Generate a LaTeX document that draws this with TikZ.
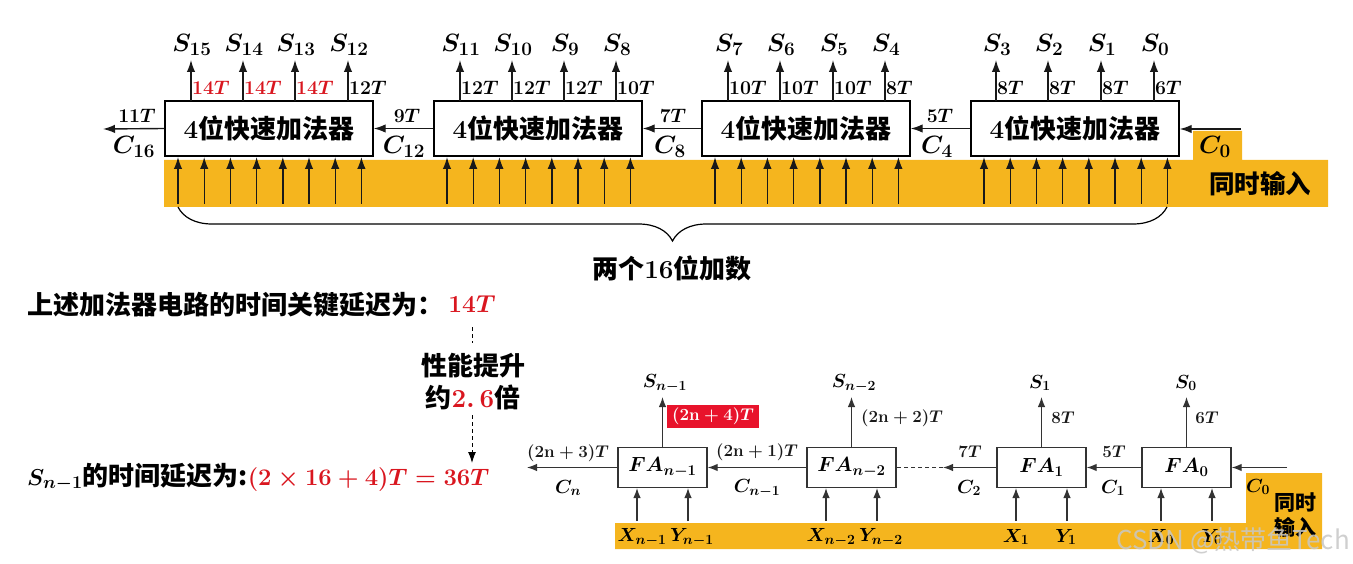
\documentclass[tikz,border=0pt]{standalone}
\usepackage{fix-cm}
\usepackage{amsmath,amssymb}
\usepackage{fontspec}
\usepackage{tikz}
\usetikzlibrary{arrows.meta,decorations.pathreplacing}
\newfontfamily\cjk{Noto Sans CJK SC}
\definecolor{bandyellow}{HTML}{F5B51E}
\definecolor{critred}{HTML}{D9161F}
\definecolor{tagred}{HTML}{E8132B}
\DeclareMathSizes{25}{25}{19}{14}
\DeclareMathSizes{23}{23}{18}{13}
\DeclareMathSizes{20.5}{20.5}{15}{12}
\DeclareMathSizes{19}{19}{14}{11}
\newcommand{\fsz}[1]{\cjk\bfseries\boldmath\fontsize{#1}{#1}\selectfont}
\tikzset{
  sig/.style={line width=1.4pt,draw=black!90,-{Latex[length=12pt,width=8.5pt]}},
  smallsig/.style={line width=1.3pt,draw=black!80,-{Latex[length=10pt,width=7.5pt]}},
  addbox/.style={draw=black,line width=1.4pt,fill=white,minimum width=208pt,minimum height=55pt,inner sep=0pt,font=\fsz{26}},
  fabox/.style={draw=black!80,line width=1.3pt,fill=white,minimum width=89pt,minimum height=40pt,inner sep=0pt,font=\fsz{20.5}},
  symlab/.style={inner sep=0pt,font=\fsz{25}},
  dly/.style={inner sep=0pt,font=\fsz{19.5}},
  lowlab/.style={inner sep=0pt,font=\fsz{19}},
  lowdly/.style={inner sep=0pt,text=black!90,font=\fsz{17}},
  headtxt/.style={inner sep=0pt,font=\fsz{26}},
  bandtxt/.style={inner sep=0pt,font=\fsz{25.5}},
  hintline/.style={line width=1pt,dash pattern=on 4pt off 3pt},
}
\begin{document}
\begin{tikzpicture}[x=1pt,y=-1pt]
  \useasboundingbox (0,0) rectangle (1353,564);
  \fill[bandyellow] (164,160) -- (1193,160) -- (1193,131) -- (1242,131) -- (1242,160) -- (1328,160) -- (1328,207) -- (164,207) -- cycle;
  \fill[bandyellow] (615,523) -- (1246,523) -- (1246,473) -- (1322,473) -- (1322,549) -- (615,549) -- cycle;

  \foreach \nm/\x in {add3/269,add2/538,add1/806,add0/1075}
    \node[addbox] (\nm) at (\x,128.5) {$4$位快速加法器};
  \coordinate (c16end) at (103,129);
  \coordinate (c0start) at (1241,129);
  \draw[sig] (c0start) -- (add0.east |- c0start);
  \draw[sig] (add0.west) -- (add1.east);
  \draw[sig] (add1.west) -- (add2.east);
  \draw[sig] (add2.west) -- (add3.east);
  \draw[sig] (add3.west) -- (c16end);

  \foreach \x/\sn/\dl/\cl in {191/15/14/critred,243/14/14/critred,295/13/14/critred,348/12/12/black,
      460/11/12/black,512/10/12/black,564/9/12/black,616/8/10/black,
      728/7/10/black,780/6/10/black,833/5/10/black,885/4/8/black,
      996/3/8/black,1048/2/8/black,1101/1/8/black,1154/0/6/black} {
    \coordinate (out\sn) at (\x,101);
    \coordinate (tip\sn) at (\x,60);
    \draw[sig] (out\sn) -- (tip\sn);
    \node[symlab] (s\sn) at (\x+1,45) {$S_{\sn}$};
    \node[dly,text=\cl,anchor=west] (d\sn) at (\x+1,88) {$\dl T$};
  }

  \foreach \l in {165,434,702,971}
    \foreach \i in {0,...,7} {
      \pgfmathsetmacro\xx{\l+13+26.2*\i}
      \coordinate (ia\l\i) at (\xx,204);
      \coordinate (ib\l\i) at (\xx,157);
      \draw[sig] (ia\l\i) -- (ib\l\i);
    }

  \foreach \x/\t/\c/\n in {137/11/16/t16,407/9/12/t12,673/7/8/t8,940/5/4/t4} {
    \node[dly] (\n) at (\x,116) {$\t T$};
    \node[symlab] (c\n) at (\x-3,147) {$C_{\c}$};
  }
  \node[symlab] (c0top) at (1215,147) {$C_0$};
  \node[bandtxt] (same) at (1260,184) {同时输入};

  \coordinate (bracel) at (178,207);
  \coordinate (bracer) at (1167,207);
  \draw[line width=1.2pt,decorate,decoration={brace,mirror,amplitude=34pt}] (bracel) -- (bracer);
  \node[headtxt] (bits) at (672,268) {两个$16$位加数};

  \node[headtxt,anchor=west] (line1) at (27,305) {上述加法器电路的时间关键延迟为：};
  \node[headtxt,text=critred,font=\fsz{24.5}] (crit) at (472,304) {$14T$};
  \node[headtxt] (up1) at (473,366) {性能提升};
  \node[headtxt] (up2) at (473,397) {约\textcolor{critred}{$2.\,6$}倍};
  \node[headtxt,anchor=west] (line2) at (27,477) {{\fontsize{23}{23}\selectfont$S_{n-1}$}的时间延迟为:\textcolor{critred}{\fontsize{23.8}{24}\selectfont$(2\times 16+4)T=36T$}};
  \coordinate (da) at (472,327);
  \coordinate (db) at (472,343);
  \coordinate (dc) at (472,415);
  \coordinate (dd) at (472,463);
  \draw[hintline] (da) -- (db);
  \draw[hintline,-{Latex[length=11pt,width=8pt]}] (dc) -- (dd);

  \foreach \nm/\x in {fan/662.5,fam/851.5,fb/1041.5,fa/1186.5}
    \coordinate (\nm c) at (\x,467.5);
  \node[fabox] (fa3) at (fanc) {$FA_{n-1}$};
  \node[fabox] (fa2) at (famc) {$FA_{n-2}$};
  \node[fabox] (fa1) at (fbc) {$FA_1$};
  \node[fabox] (fa0) at (fac) {$FA_0$};
  \coordinate (cnend) at (527,467.5);
  \coordinate (c0in) at (1287,467.5);
  \coordinate (dashmid) at (943,467.5);
  \draw[smallsig] (c0in) -- (fa0.east);
  \draw[smallsig] (fa0.west) -- (fa1.east);
  \draw[smallsig] (fa1.west) -- (dashmid);
  \draw[line width=1.3pt,draw=black!80,dash pattern=on 4pt off 3pt] (dashmid) -- (fa2.east);
  \draw[smallsig] (fa2.west) -- (fa3.east);
  \draw[smallsig] (fa3.west) -- (cnend);

  \foreach \x/\nm in {662.5/a,851.5/b,1041.5/c,1186.5/d} {
    \coordinate (up\nm) at (\x,448);
    \coordinate (top\nm) at (\x,397);
    \draw[smallsig] (up\nm) -- (top\nm);
  }
  \node[lowlab] (sa) at (665,383) {$S_{n-1}$};
  \node[lowlab] (sb) at (854,383) {$S_{n-2}$};
  \node[lowlab] (sc) at (1040,383) {$S_1$};
  \node[lowlab] (sd) at (1186,383) {$S_0$};

  \node[fill=tagred,text=white,inner sep=0pt,minimum width=92pt,minimum height=23pt,font=\fsz{17}] (tag) at (713,416.5) {$(2\mathbf{n}+4)T$};
  \node[lowdly] (d2) at (902,418) {$(2\mathbf{n}+2)T$};
  \node[lowdly] (d8) at (1063,418) {$8T$};
  \node[lowdly] (d6) at (1207,418) {$6T$};
  \node[lowdly] (h3) at (568,453) {$(2\mathbf{n}+3)T$};
  \node[lowdly] (h1) at (757,452) {$(2\mathbf{n}+1)T$};
  \node[lowdly] (h7) at (970,452) {$7T$};
  \node[lowdly] (h5) at (1114,452) {$5T$};
  \node[lowlab] (cn) at (568,488) {$C_n$};
  \node[lowlab] (cm) at (757,488) {$C_{n-1}$};
  \node[lowlab] (c2) at (969,488) {$C_2$};
  \node[lowlab] (c1) at (1113,488) {$C_1$};
  \node[lowlab] (c0low) at (1258,487) {$C_0$};

  \foreach \x/\nm in {637/a,688/b,826/c,877/d,1016/e,1067/f,1161/g,1212/h} {
    \coordinate (xa\nm) at (\x,521);
    \coordinate (xb\nm) at (\x,488);
    \draw[smallsig] (xa\nm) -- (xb\nm);
  }
  \node[lowlab] (xn) at (642,537) {$X_{n-1}$};
  \node[lowlab] (yn) at (692,537) {$Y_{n-1}$};
  \node[lowlab] (xm) at (831,537) {$X_{n-2}$};
  \node[lowlab] (ym) at (881,537) {$Y_{n-2}$};
  \node[lowlab] (x1) at (1016,537) {$X_1$};
  \node[lowlab] (y1) at (1066,537) {$Y_1$};
  \node[lowlab] (x0) at (1161,537) {$X_0$};
  \node[lowlab] (y0) at (1212,537) {$Y_0$};
  \node[bandtxt,font=\fsz{21}] (same1) at (1295,503) {同时};
  \node[bandtxt,font=\fsz{21}] (same2) at (1295,527) {输入};

  \node[inner sep=0pt,anchor=east,text=white!78!black,opacity=.85,font=\cjk\fontsize{26}{26}\selectfont] (mark) at (1350,541) {CSDN @热带鱼Tech};
\end{tikzpicture}
\end{document}
